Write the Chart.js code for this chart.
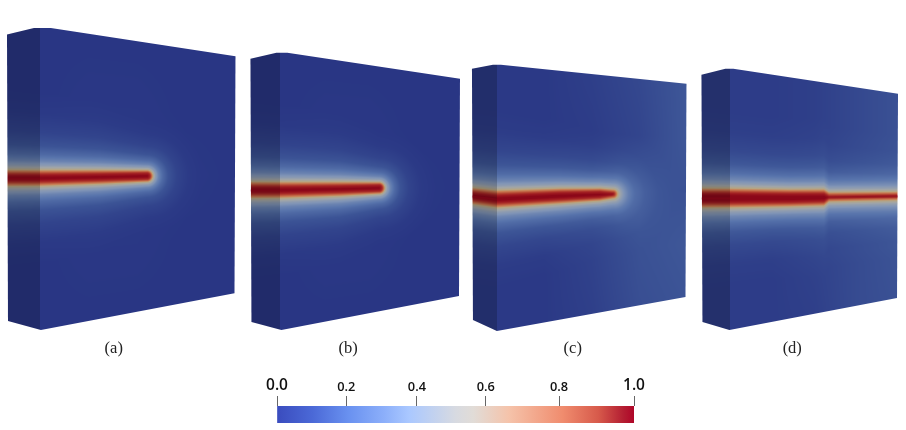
<!DOCTYPE html>
<html>
<head>
<meta charset="utf-8">
<title>Crack phase field</title>
<script src="https://cdn.jsdelivr.net/npm/chart.js@4"></script>
<style>
  html, body { margin: 0; background: #fff; }
  #fieldChart { position: absolute; left: 0; top: 0; }
  #barChart { position: absolute; left: 0; top: 372px; }
</style>
</head>
<body>
<canvas id="fieldChart" width="906" height="362"></canvas>
<canvas id="barChart" width="906" height="58"></canvas>
<script>
"use strict";

// 1: data
const panelLabels = ['(a)', '(b)', '(c)', '(d)'];
const panelLabelX = [113, 348, 573, 793];

// block outlines: left top, top of the near edge, right top, right bottom, near bottom, left bottom
const outlineAX = [6, 33, 50, 235, 234, 40, 7];
const outlineAY = [33.5, 27, 27, 55.5, 293, 330, 321];
const outlineBX = [250, 276, 287, 460, 459, 281, 251];
const outlineBY = [58, 52, 52, 78, 296, 330, 322];
const outlineCX = [472, 493, 501, 687, 686, 497, 473];
const outlineCY = [68, 64, 64, 83, 297, 331, 320];
const outlineDX = [702, 726, 734, 899, 898, 730, 703];
const outlineDY = [74, 68, 68, 93, 298, 330, 322];
const nearEdgeX = [40, 280, 497, 730];

// crack centre lines, core half widths and halo spread along them
const crackAX = [7, 40, 100, 147];
const crackAY = [178, 178, 177, 176];
const crackAW = [3.8, 3.8, 3.4, 3.2];
const crackAH = [1.15, 1.1, 0.95, 0.7];
const crackBX = [250, 280, 340, 379];
const crackBY = [190, 190, 189, 188];
const crackBW = [3.8, 3.8, 3.4, 3.2];
const crackBH = [1.15, 1.1, 0.95, 0.7];
const crackCX = [472, 497, 560, 600, 613];
const crackCY = [196, 199, 196, 194.5, 194];
const crackCW = [3.8, 4.2, 3.8, 3, 1.2];
const crackCH = [1.15, 1.15, 0.95, 0.8, 0.8];
const crackDX = [702, 730, 790, 824, 829, 899];
const crackDY = [198, 198, 198, 197.5, 197, 196];
const crackDW = [5.2, 5.2, 4.6, 4.2, 1, 0.8];
const crackDH = [1.15, 1.1, 1, 1, 0.92, 0.8];

// far field damage on the front face, 5 x 5 samples
const farFieldA = [
  [0, 0, 0, 0, 0],
  [0, 0.005, 0.005, 0, 0],
  [0.01, 0.01, 0.01, 0.005, 0],
  [0, 0.005, 0.005, 0, 0],
  [0, 0, 0, 0, 0]
];
const farFieldB = farFieldA;
const farFieldC = [
  [0.01, 0.01, 0.03, 0.06, 0.11],
  [0.01, 0.01, 0.02, 0.05, 0.11],
  [0.02, 0.03, 0.04, 0.10, 0.09],
  [0.01, 0.01, 0.04, 0.09, 0.11],
  [0.01, 0.01, 0.03, 0.08, 0.10]
];
const farFieldD = [
  [0.02, 0.02, 0.03, 0.06, 0.09],
  [0.02, 0.02, 0.03, 0.06, 0.09],
  [0.03, 0.03, 0.03, 0.05, 0.07],
  [0.02, 0.02, 0.04, 0.07, 0.10],
  [0.02, 0.02, 0.03, 0.07, 0.09]
];

// damage against distance from the crack core
const profileDist = [-3, -1.5, 0, 1, 2, 3, 4, 5.5, 8, 12, 18, 26, 38, 55, 75];
const profileDamage = [1, 0.93, 0.84, 0.75, 0.66, 0.58, 0.5, 0.42, 0.33, 0.24, 0.16, 0.09, 0.04, 0.01, 0];

// lit colours of the damage ramp on the front face
const rampValues = [0, 0.1, 0.2, 0.3, 0.4, 0.5, 0.6, 0.75, 0.9, 1];
const rampRed = [41, 60, 88, 128, 160, 182, 200, 182, 158, 140];
const rampGreen = [54, 84, 116, 148, 165, 165, 128, 70, 25, 8];
const rampBlue = [132, 150, 172, 182, 168, 130, 85, 50, 32, 25];
const sideShade = 0.8;

// colour bar
const barTickValues = [0, 0.194, 0.392, 0.585, 0.79, 1];
const barTickLabels = ['0.0', '0.2', '0.4', '0.6', '0.8', '1.0'];
const barStops = [0, 0.1, 0.2, 0.3, 0.37, 0.5, 0.55, 0.65, 0.8, 0.9, 0.97, 1];
const barColors = ['#3a4cbe', '#4b69d7', '#6991f0', '#8cafFA', '#aac8ff', '#d7dae1', '#e1dcd7',
  '#f5c3aa', '#f08c6e', '#d75a4b', '#b41e32', '#af0528'];

const panels = [
  { ox: outlineAX, oy: outlineAY, edge: nearEdgeX[0], cx: crackAX, cy: crackAY, cw: crackAW, ch: crackAH, far: farFieldA },
  { ox: outlineBX, oy: outlineBY, edge: nearEdgeX[1], cx: crackBX, cy: crackBY, cw: crackBW, ch: crackBH, far: farFieldB },
  { ox: outlineCX, oy: outlineCY, edge: nearEdgeX[2], cx: crackCX, cy: crackCY, cw: crackCW, ch: crackCH, far: farFieldC },
  { ox: outlineDX, oy: outlineDY, edge: nearEdgeX[3], cx: crackDX, cy: crackDY, cw: crackDW, ch: crackDH, far: farFieldD }
];

// 2: table lookups
function lookup(xs, ys, x) {
  if (x <= xs[0]) return ys[0];
  for (let i = 1; i < xs.length; i++) {
    if (x <= xs[i]) {
      return ys[i - 1] + (ys[i] - ys[i - 1]) * (x - xs[i - 1]) / (xs[i] - xs[i - 1]);
    }
  }
  return ys[ys.length - 1];
}

function sampleFar(grid, u, v) {
  const fu = Math.min(Math.max(u, 0), 1) * 4;
  const fv = Math.min(Math.max(v, 0), 1) * 4;
  const iu = Math.min(Math.floor(fu), 3);
  const iv = Math.min(Math.floor(fv), 3);
  const a = grid[iv][iu] + (grid[iv][iu + 1] - grid[iv][iu]) * (fu - iu);
  const b = grid[iv + 1][iu] + (grid[iv + 1][iu + 1] - grid[iv + 1][iu]) * (fu - iu);
  return a + (b - a) * (fv - iv);
}

function damageAt(p, x, y) {
  const tip = p.cx[p.cx.length - 1];
  const dx = Math.max(0, x - tip);
  const dy = y - lookup(p.cx, p.cy, x);
  const core = lookup(p.cx, p.cw, x);
  const spread = lookup(p.cx, p.ch, x);
  let s = Math.sqrt(dx * dx + dy * dy) - core;
  if (s > 0) s /= spread;
  const crack = lookup(profileDist, profileDamage, s);

  // front face position for the far field
  const xr = p.ox[3];
  const u = (x - p.edge) / (xr - p.edge);
  const top = p.oy[2] + (p.oy[3] - p.oy[2]) * Math.max(u, 0);
  const bottom = p.oy[5] + (p.oy[4] - p.oy[5]) * Math.max(u, 0);
  const far = sampleFar(p.far, u, (y - top) / (bottom - top));
  return 1 - (1 - crack) * (1 - far);
}

// 3: paint the field into a pattern the block outlines are filled with
function buildFieldPattern(chart) {
  const xs = chart.scales.x;
  const ys = chart.scales.y;
  const off = document.createElement('canvas');
  off.width = chart.width;
  off.height = chart.height;
  const octx = off.getContext('2d');
  const img = octx.createImageData(off.width, off.height);

  for (const p of panels) {
    const pxMin = Math.floor(xs.getPixelForValue(Math.min(...p.ox))) - 2;
    const pxMax = Math.ceil(xs.getPixelForValue(Math.max(...p.ox))) + 2;
    const pyMin = Math.floor(ys.getPixelForValue(Math.min(...p.oy))) - 2;
    const pyMax = Math.ceil(ys.getPixelForValue(Math.max(...p.oy))) + 2;
    for (let py = Math.max(pyMin, 0); py < Math.min(pyMax, off.height); py++) {
      const y = ys.getValueForPixel(py + 0.5);
      for (let px = Math.max(pxMin, 0); px < Math.min(pxMax, off.width); px++) {
        const x = xs.getValueForPixel(px + 0.5);
        const d = damageAt(p, x, y);
        const shade = x < p.edge ? sideShade : 1;
        const k = (py * off.width + px) * 4;
        img.data[k] = lookup(rampValues, rampRed, d) * shade;
        img.data[k + 1] = lookup(rampValues, rampGreen, d) * shade;
        img.data[k + 2] = lookup(rampValues, rampBlue, d) * shade;
        img.data[k + 3] = 255;
      }
    }
  }
  octx.putImageData(img, 0, 0);
  return chart.ctx.createPattern(off, 'no-repeat');
}

function toPoints(xs, ys) {
  return xs.map((x, i) => ({ x: x, y: ys[i] }));
}

// 4: block panels with their captions
const outlineSets = panels.map((p, i) => ({
  label: 'block ' + panelLabels[i],
  data: toPoints(p.ox, p.oy).concat([{ x: p.ox[0], y: p.oy[0] }]),
  borderWidth: 0,
  pointRadius: 0,
  fill: 'shape',
  backgroundColor: '#29367f',
  order: 2
}));
const crackSets = panels.map((p, i) => ({
  label: 'crack ' + panelLabels[i],
  data: toPoints(p.cx, p.cy),
  borderColor: 'rgba(140, 8, 25, 0.3)',
  borderWidth: 2,
  borderCapStyle: 'butt',
  pointRadius: 0,
  fill: false,
  order: 1
}));

const fieldChart = new Chart(document.getElementById('fieldChart'), {
  type: 'line',
  data: { datasets: outlineSets.concat(crackSets) },
  options: {
    responsive: false,
    animation: false,
    events: [],
    layout: { padding: 0 },
    plugins: { legend: { display: false }, tooltip: { enabled: false } },
    scales: {
      x: {
        type: 'linear',
        min: 0,
        max: 906,
        grid: { display: false, drawTicks: false },
        border: { display: false },
        afterFit: axis => { axis.height = 24; },
        afterBuildTicks: axis => { axis.ticks = panelLabelX.map(v => ({ value: v })); },
        ticks: {
          autoSkip: false,
          maxRotation: 0,
          padding: 1,
          color: '#222',
          font: { family: '"Liberation Serif", serif', size: 16.5 },
          callback: (v, i) => panelLabels[i]
        }
      },
      y: { type: 'linear', min: 0, max: 338, reverse: true, display: false }
    }
  }
});

const pattern = buildFieldPattern(fieldChart);
outlineSets.forEach(set => { set.backgroundColor = pattern; });
fieldChart.update('none');

// 5: colour bar
new Chart(document.getElementById('barChart'), {
  type: 'bar',
  data: {
    labels: ['damage'],
    datasets: [{
      data: [1],
      barPercentage: 1,
      categoryPercentage: 1,
      backgroundColor: ctx => {
        const area = ctx.chart.chartArea;
        if (!area) return barColors[0];
        const g = ctx.chart.ctx.createLinearGradient(area.left, 0, area.right, 0);
        barStops.forEach((s, i) => g.addColorStop(s, barColors[i]));
        return g;
      }
    }]
  },
  options: {
    responsive: false,
    animation: false,
    events: [],
    indexAxis: 'y',
    layout: { padding: { left: 277, right: 272, top: 0, bottom: 7 } },
    plugins: { legend: { display: false }, tooltip: { enabled: false } },
    scales: {
      x: {
        type: 'linear',
        position: 'top',
        min: 0,
        max: 1,
        border: { display: false },
        grid: { drawOnChartArea: false, drawTicks: true, tickLength: 10, color: '#666', lineWidth: 1 },
        afterFit: axis => { axis.height = 34; },
        afterBuildTicks: axis => { axis.ticks = barTickValues.map(v => ({ value: v })); },
        ticks: {
          autoSkip: false,
          maxRotation: 0,
          padding: 1,
          color: '#111',
          font: ctx => {
            const big = ctx.index === 0 || ctx.index === barTickLabels.length - 1;
            return { family: '"Open Sans", sans-serif', weight: '600', size: big ? 15.5 : 12.8 };
          },
          callback: (v, i) => barTickLabels[i]
        }
      },
      y: { display: false }
    }
  }
});
</script>
</body>
</html>
